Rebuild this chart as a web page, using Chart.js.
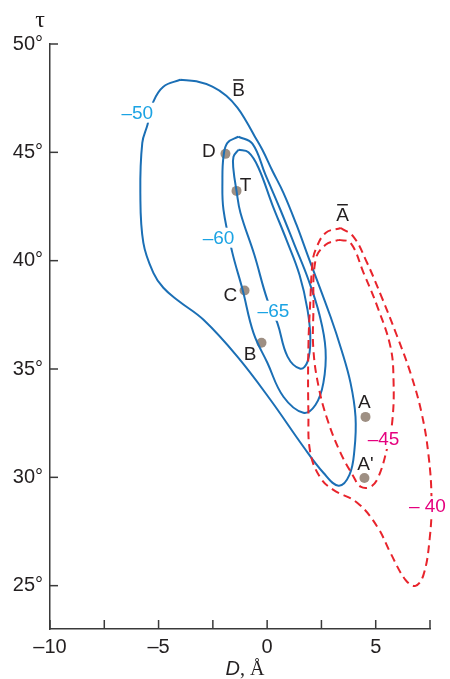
<!DOCTYPE html>
<html>
<head>
<meta charset="utf-8">
<script src="https://cdn.jsdelivr.net/npm/chart.js@4.4.1/dist/chart.umd.min.js"></script>
<style>
  html, body { margin: 0; padding: 0; background: #fff; }
  canvas { display: block; }
</style>
</head>
<body>
<canvas id="mapChart" width="450" height="679"></canvas>
<script>
// ticks
const xTicks = [-10, -7.5, -5, -2.5, 0, 2.5, 5, 7.5];
const yTicks = [25, 30, 35, 40, 45, 50];

// contornos (D em Å, tau em graus)
const contour50 = [
  [-4.0, 48.35], [-3.26, 48.28], [-2.52, 48.03], [-1.88, 47.61], [-1.37, 47.06],
  [-0.95, 46.41], [-0.59, 45.77], [-0.22, 45.12], [0.24, 44.15], [0.75, 43.13],
  [1.35, 41.66], [1.86, 40.27], [2.92, 37.41], [3.42, 35.89],
  [3.84, 34.36], [4.07, 32.79], [4.02, 31.27], [3.79, 30.11], [3.29, 29.61],
  [2.59, 30.21], [1.67, 31.41], [0.15, 33.58], [-1.37, 35.57], [-2.93, 37.27],
  [-4.09, 38.15], [-4.78, 38.75], [-5.24, 39.44], [-5.70, 40.82], [-5.84, 43.13],
  [-5.75, 45.44], [-5.51, 46.27], [-5.24, 47.34], [-4.78, 48.03], [-4.0, 48.35]
];
const contour60 = [
  [-1.32, 45.72], [-0.68, 45.40], [-0.08, 43.97], [0.61, 42.35], [1.26, 40.73],
  [1.90, 39.12], [2.41, 37.50], [2.69, 35.89], [2.59, 34.36], [2.23, 33.35],
  [1.67, 32.98], [0.75, 33.72], [0.01, 35.29], [-0.63, 36.67], [-1.13, 38.66],
  [-1.60, 40.36], [-2.01, 42.34], [-2.06, 43.73], [-2.01, 44.80], [-1.83, 45.44],
  [-1.32, 45.72]
];
const contour65 = [
  [-1.32, 45.12], [-0.86, 45.00], [-0.40, 44.29], [0.24, 42.58], [0.89, 40.96],
  [1.49, 39.35], [1.86, 37.73], [1.99, 36.35], [1.86, 35.34], [1.53, 35.01],
  [0.94, 35.57], [0.47, 37.13], [0.01, 38.19], [-0.59, 40.27], [-1.23, 42.21],
  [-1.41, 43.22], [-1.55, 44.19], [-1.55, 44.80], [-1.32, 45.12]
];
const contour40 = [
  [3.39, 41.51], [3.98, 41.10], [4.58, 39.95], [5.27, 38.33], [5.96, 36.58],
  [6.60, 34.82], [7.11, 32.98], [7.43, 31.04], [7.57, 28.96], [7.48, 27.12],
  [7.20, 25.50], [6.83, 24.99], [6.37, 25.27], [5.68, 26.51], [5.08, 27.71],
  [4.16, 28.82], [3.05, 29.42], [2.46, 29.97], [1.99, 31.13], [1.90, 32.98],
  [1.90, 36.02], [1.99, 38.19], [2.09, 39.90], [2.23, 40.50], [2.69, 41.28],
  [3.39, 41.51]
];
const contour45 = [
  [3.29, 40.96], [3.84, 40.82], [4.44, 39.44], [5.08, 37.87], [5.68, 36.02],
  [5.82, 34.50], [5.77, 32.65], [5.54, 31.41], [5.13, 30.03], [4.77, 29.57],
  [4.30, 29.57], [3.98, 30.03], [3.38, 31.13], [2.78, 32.65], [2.37, 34.18],
  [2.13, 35.90], [2.13, 37.59], [2.23, 40.04], [2.69, 40.73], [3.29, 40.96]
];

// pontos marcados
const pointNames = ['D', 'T', 'C', 'B', 'A', 'A\''];
const pointD = [-1.92, -1.41, -1.04, -0.26, 4.53, 4.48];
const pointTau = [44.93, 43.22, 38.62, 36.21, 32.79, 29.97];

// rótulos de texto (posição em unidades dos eixos)
const blue = '#1b6fb5', lightBlue = '#1ba3e3', red = '#e8242c', magenta = '#e5007e', ink = '#231f20';
const notes = [
  { text: '\u201350', x: -5.98, y: 46.83, color: lightBlue, box: true },
  { text: '\u201360', x: -2.24, y: 41.06, color: lightBlue, box: true },
  { text: '\u201365', x: 0.29, y: 37.69, color: lightBlue, box: true },
  { text: '\u201345', x: 5.36, y: 31.77, color: magenta, box: true },
  { text: '\u2013 40', x: 7.38, y: 28.67, color: magenta, box: true },
  { text: 'D', x: -2.68, y: 45.05, color: ink },
  { text: 'T', x: -1.0, y: 43.5, color: ink },
  { text: 'C', x: -1.69, y: 38.43, color: ink },
  { text: 'B', x: -0.79, y: 35.72, color: ink },
  { text: 'A', x: 4.48, y: 33.49, color: ink },
  { text: 'A\'', x: 4.53, y: 30.62, color: ink },
  { text: 'B', x: -1.32, y: 47.88, color: ink, bar: true },
  { text: 'A', x: 3.47, y: 42.12, color: ink, bar: true }
];

const toXY = arr => arr.map(p => ({ x: p[0], y: p[1] }));

function curve(data, color, dashed) {
  return {
    data: toXY(data),
    showLine: true,
    borderColor: color,
    borderWidth: 2,
    borderDash: dashed ? [8, 5] : [],
    pointRadius: 0,
    tension: 0.4,
    fill: false,
    clip: false
  };
}

const extras = {
  id: 'extras',
  afterDraw(chart) {
    const ctx = chart.ctx;
    const xs = chart.scales.x, ys = chart.scales.y;
    const area = chart.chartArea;
    ctx.save();
    // marcas dos ticks para dentro
    ctx.strokeStyle = '#3a3a3a';
    ctx.lineWidth = 1.5;
    xTicks.forEach(v => {
      const px = xs.getPixelForValue(v);
      ctx.beginPath(); ctx.moveTo(px, area.bottom); ctx.lineTo(px, area.bottom - 9); ctx.stroke();
    });
    yTicks.forEach(v => {
      const py = ys.getPixelForValue(v);
      ctx.beginPath(); ctx.moveTo(area.left, py); ctx.lineTo(area.left + 8, py); ctx.stroke();
    });
    // rótulos
    ctx.textAlign = 'center';
    ctx.textBaseline = 'middle';
    ctx.font = '19px "Liberation Sans", Arial, sans-serif';
    notes.forEach(n => {
      const px = xs.getPixelForValue(n.x), py = ys.getPixelForValue(n.y);
      const w = ctx.measureText(n.text).width;
      if (n.box) {
        ctx.fillStyle = '#fff';
        ctx.fillRect(px - w / 2 - 2, py - 10, w + 4, 20);
      }
      ctx.fillStyle = n.color;
      ctx.fillText(n.text, px, py + 1);
      if (n.bar) {
        ctx.strokeStyle = ink; ctx.lineWidth = 1.5;
        ctx.beginPath(); ctx.moveTo(px - w / 2 + 1, py - 10); ctx.lineTo(px + w / 2 - 1, py - 10); ctx.stroke();
      }
    });
    // tau no topo do eixo y
    ctx.fillStyle = ink;
    ctx.font = '24px "Liberation Serif", serif';
    ctx.fillText('\u03c4', area.left - 10, area.top - 23);
    // título do eixo x: D, Å
    const cx = (area.left + area.right) / 2 + 5, by = 675;
    ctx.textBaseline = 'alphabetic';
    ctx.textAlign = 'left';
    ctx.font = 'italic 20px "Liberation Sans", Arial, sans-serif';
    const wD = ctx.measureText('D').width;
    ctx.font = '20px "Liberation Serif", serif';
    const wR = ctx.measureText(', \u00c5').width;
    const x0 = cx - (wD + wR) / 2;
    ctx.font = 'italic 20px "Liberation Sans", Arial, sans-serif';
    ctx.fillText('D', x0, by);
    ctx.font = '20px "Liberation Serif", serif';
    ctx.fillText(', \u00c5', x0 + wD, by);
    ctx.restore();
  }
};

new Chart(document.getElementById('mapChart'), {
  type: 'scatter',
  data: {
    datasets: [
      curve(contour40, red, true),
      curve(contour45, red, true),
      curve(contour50, blue, false),
      curve(contour60, blue, false),
      curve(contour65, blue, false),
      {
        data: pointD.map((d, i) => ({ x: d, y: pointTau[i], name: pointNames[i] })),
        showLine: false,
        pointRadius: 5,
        pointBackgroundColor: '#9e8f83',
        pointBorderWidth: 0
      }
    ]
  },
  options: {
    responsive: false,
    animation: false,
    layout: { padding: { top: 44, right: 20, left: 0, bottom: 0 } },
    plugins: { legend: { display: false }, tooltip: { enabled: false } },
    scales: {
      x: {
        type: 'linear', min: -10, max: 7.5,
        afterBuildTicks: s => { s.ticks = xTicks.map(v => ({ value: v })); },
        afterFit: s => { s.height = 50; },
        grid: { display: false, drawTicks: false },
        border: { color: '#3a3a3a', width: 1.5 },
        ticks: {
          padding: 6, color: ink, font: { size: 20, family: '"Liberation Sans", Arial, sans-serif' },
          callback: v => (v % 5 === 0 ? (v < 0 ? '\u2013' + Math.abs(v) : String(v)) : '')
        }
      },
      y: {
        type: 'linear', min: 23, max: 50,
        afterBuildTicks: s => { s.ticks = yTicks.map(v => ({ value: v })); },
        afterFit: s => { s.width = 50; },
        grid: { display: false, drawTicks: false },
        border: { color: '#3a3a3a', width: 1.5 },
        ticks: {
          padding: 7, color: ink, font: { size: 20, family: '"Liberation Sans", Arial, sans-serif' },
          callback: v => v + '\u00b0'
        }
      }
    }
  },
  plugins: [extras]
});
</script>
</body>
</html>
